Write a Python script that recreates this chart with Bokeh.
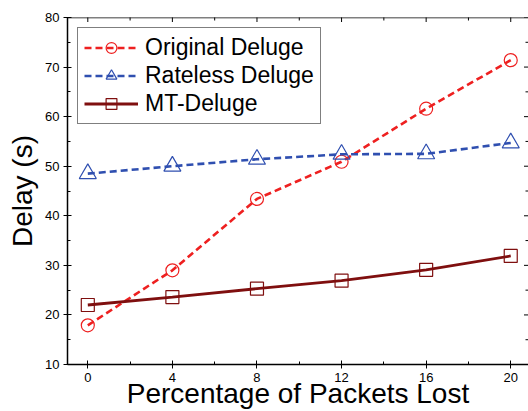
import math
from bokeh.plotting import figure
from bokeh.models import Range1d, FixedTicker, Legend, LegendItem, Span
from bokeh.embed import file_html
from bokeh.resources import INLINE

x = [0, 4, 8, 12, 16, 20]
original = [17.9, 29.0, 43.4, 50.9, 61.6, 71.4]
rateless = [48.5, 50.0, 51.4, 52.4, 52.5, 54.7]
mt = [22.0, 23.6, 25.3, 26.9, 29.1, 31.9]
x_ticks = [0, 4, 8, 12, 16, 20]
x_minor = [2, 6, 10, 14, 18]
y_ticks = [10, 20, 30, 40, 50, 60, 70, 80]
y_minor = [15, 25, 35, 45, 55, 65, 75]

red = "#ee2020"
blue = "#2f4fb0"
dred = "#7f0f0f"
FONT = "Liberation Sans"

xr = Range1d(-0.96, 20.84)
yr = Range1d(10, 80)
p = figure(width=528, height=411, output_backend="svg", toolbar_location=None,
           x_range=xr, y_range=yr,
           min_border_left=67, min_border_right=0, min_border_top=17, min_border_bottom=40)
p.grid.visible = False
p.outline_line_color = None
p.background_fill_color = "white"
p.border_fill_color = "white"

for ax in [p.xaxis[0], p.yaxis[0]]:
    ax.axis_line_width = 1.5
    ax.major_tick_line_width = 1
    ax.minor_tick_line_width = 1
    ax.major_label_text_font = FONT
    ax.axis_label_text_font = FONT
    ax.axis_label_text_font_style = "normal"
    ax.major_tick_out = 4
    ax.major_tick_in = 4
    ax.minor_tick_out = 0
    ax.minor_tick_in = 3
    ax.major_label_text_color = "black"
    ax.axis_label_text_color = "black"

p.xaxis.ticker = FixedTicker(ticks=x_ticks, minor_ticks=x_minor)
p.yaxis.ticker = FixedTicker(ticks=y_ticks, minor_ticks=y_minor)
p.xaxis.axis_label = "Percentage of Packets Lost"
p.yaxis.axis_label = "Delay (s)"
p.xaxis.axis_label_text_font_size = "28px"
p.yaxis.axis_label_text_font_size = "28px"
p.xaxis.major_label_text_font_size = "13px"
p.yaxis.major_label_text_font_size = "13px"
p.xaxis.axis_label_standoff = -7
p.yaxis.axis_label_standoff = 4
p.xaxis.major_label_standoff = 4
p.yaxis.major_label_standoff = 4

# top frame line and inward ticks on top / right (clipped to the frame)
p.add_layout(Span(location=yr.end, dimension="width", line_color="black", line_width=1.5))
p.scatter(x_ticks, [yr.end] * len(x_ticks), marker="dash", angle=math.pi / 2, size=9,
          line_color="black", line_width=1)
p.scatter(x_minor, [yr.end] * len(x_minor), marker="dash", angle=math.pi / 2, size=6,
          line_color="black", line_width=1)
p.scatter([xr.end] * len(y_ticks), y_ticks, marker="dash", size=9, line_color="black", line_width=1)
p.scatter([xr.end] * len(y_minor), y_minor, marker="dash", size=6, line_color="black", line_width=1)

l1 = p.line(x, original, line_color=red, line_width=2.6, line_dash="7 4")
m1 = p.scatter(x, original, marker="circle", size=13, fill_color=None, line_color=red, line_width=1.2)
l2 = p.line(x, rateless, line_color=blue, line_width=2.6, line_dash="7 4")
m2 = p.scatter(x, rateless, marker="triangle", size=17, fill_color=None, line_color=blue, line_width=1.2)
l3 = p.line(x, mt, line_color=dred, line_width=2.8)
m3 = p.scatter(x, mt, marker="square", size=13, fill_color=None, line_color=dred, line_width=1.2)

legend = Legend(items=[
    LegendItem(label="Original Deluge", renderers=[l1, m1]),
    LegendItem(label="Rateless Deluge", renderers=[l2, m2]),
    LegendItem(label="MT-Deluge", renderers=[l3, m3]),
], location="top_left")
legend.label_text_font = FONT
legend.label_text_font_size = "23px"
legend.label_text_color = "black"
legend.glyph_width = 54
legend.glyph_height = 27
legend.label_height = 27
legend.spacing = 1
legend.padding = 6
legend.margin = 10
legend.border_line_color = "black"
legend.border_line_width = 1.2
legend.label_standoff = 7
p.add_layout(legend)

open("out.html", "w").write(file_html(p, INLINE))
